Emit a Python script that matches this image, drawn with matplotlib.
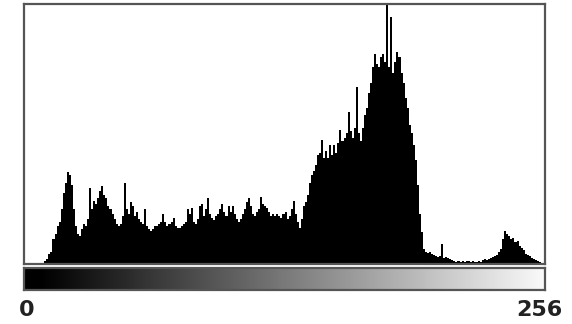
import numpy as np
import matplotlib
matplotlib.use("Agg")
import matplotlib.pyplot as plt

# histogram counts per grey level (0..255)
counts = [
    0, 0, 0, 0, 0, 0, 0, 0, 1, 1,
    3, 5, 10, 12, 25, 30, 38, 42, 55, 70,
    80, 91, 88, 78, 55, 38, 30, 28, 35, 40,
    38, 45, 75, 55, 63, 60, 65, 72, 77, 68,
    65, 58, 55, 50, 45, 40, 38, 40, 48, 80,
    55, 50, 62, 58, 48, 52, 45, 42, 40, 55,
    38, 35, 33, 35, 38, 38, 40, 42, 50, 42,
    38, 40, 42, 46, 38, 36, 36, 38, 40, 42,
    55, 50, 56, 42, 40, 45, 58, 60, 48, 55,
    65, 50, 46, 44, 48, 50, 55, 60, 52, 48,
    58, 52, 58, 50, 45, 42, 45, 50, 55, 62,
    65, 58, 50, 48, 52, 55, 66, 60, 58, 56,
    52, 48, 50, 48, 50, 48, 46, 50, 52, 45,
    48, 55, 63, 50, 42, 36, 45, 58, 62, 68,
    80, 88, 92, 98, 108, 110, 123, 105, 112, 105,
    118, 108, 118, 110, 120, 133, 122, 125, 130, 151,
    132, 125, 135, 176, 130, 122, 135, 148, 155, 170,
    180, 195, 208, 198, 195, 205, 208, 200, 275, 195,
    245, 190, 200, 210, 205, 190, 180, 165, 155, 138,
    130, 118, 103, 78, 50, 32, 15, 12, 11, 12,
    10, 9, 8, 7, 8, 20, 6, 7, 6, 5,
    4, 3, 2, 3, 2, 3, 2, 3, 3, 2,
    3, 2, 2, 3, 2, 4, 5, 4, 5, 6,
    7, 8, 9, 12, 15, 25, 33, 30, 28, 25,
    26, 22, 23, 18, 16, 14, 10, 9, 8, 6,
    5, 4, 3, 2, 1, 1,
]
levels = np.arange(len(counts))
label_low = "0"
label_high = "256"

fig = plt.figure(figsize=(5.72, 3.24), dpi=100)
W, H = 572, 324
frame_col = "#555555"

ax = fig.add_axes([24 / W, 1 - 264 / H, 521 / W, 260 / H])
ax.bar(levels, counts, width=1.0, color="black", linewidth=0)
ax.set_xlim(-0.5, 255.5)
ax.set_ylim(0, 258)
ax.set_xticks([])
ax.set_yticks([])
for s in ax.spines.values():
    s.set_color(frame_col)
    s.set_linewidth(1.6)

# grey ramp under the histogram
cb = fig.add_axes([24 / W, 1 - 290 / H, 521 / W, 22 / H])
ramp = np.linspace(0, 1, 256).reshape(1, -1)
cb.imshow(ramp, cmap="gray", aspect="auto", extent=(0, 256, 0, 1), vmin=0.03, vmax=1.02)
cb.set_xticks([])
cb.set_yticks([])
for s in cb.spines.values():
    s.set_color(frame_col)
    s.set_linewidth(1.6)

fig.text(26.5 / W, 1 - 316 / H, label_low, ha="center", va="baseline",
         fontsize=16, fontweight="bold", color="#222222")
fig.text(563 / W, 1 - 316 / H, label_high, ha="right", va="baseline",
         fontsize=16, fontweight="bold", color="#222222")

fig.savefig("out.png", dpi=100, facecolor="white")
